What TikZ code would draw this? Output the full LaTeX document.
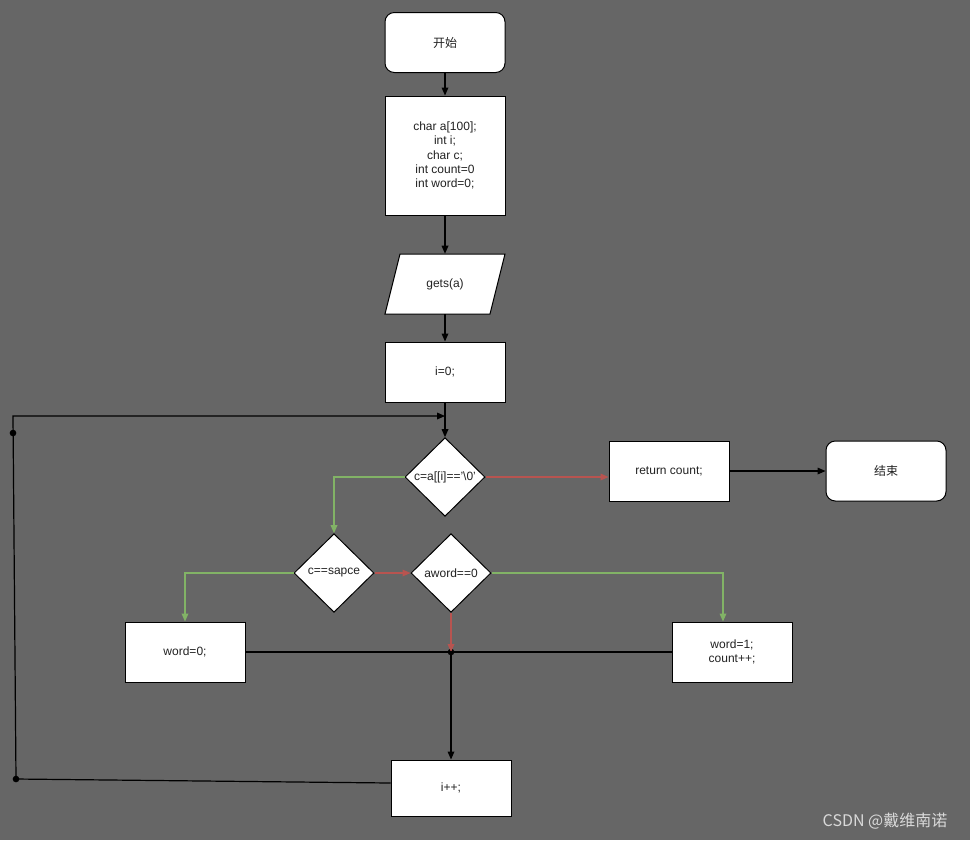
\documentclass[tikz,border=0pt]{standalone}
\usepackage{fontspec}
\setmainfont{Liberation Sans}
\newfontfamily\cjk{Noto Sans CJK SC}
\usetikzlibrary{arrows.meta,shapes.geometric}
\definecolor{bg}{HTML}{666666}
\definecolor{redl}{HTML}{B85450}
\definecolor{greenl}{HTML}{82B366}
\definecolor{txt}{HTML}{222222}
\tikzset{
  box/.style={draw=black, fill=white, line width=0.75pt, minimum width=90pt, minimum height=45pt, inner sep=0pt, align=center, font=\fontsize{9}{10.8}\selectfont, text=txt},
  rbox/.style={box, rounded corners=7pt},
  dia/.style={draw=black, fill=white, line width=0.75pt, diamond, minimum width=60pt, minimum height=59pt, inner sep=0pt},
  lab/.style={font=\fontsize{9}{10.8}\selectfont, text=txt, inner sep=0pt},
  conn/.style={color=black, line width=0.9pt},
  arr/.style={conn, -{Triangle[length=6pt,width=5pt]}},
  garr/.style={line width=0.9pt, color=greenl, -{Triangle[length=6pt,width=5pt]}},
  rarr/.style={line width=0.9pt, color=redl, -{Triangle[length=6pt,width=5pt]}},
  dot/.style={circle, fill=black, inner sep=0pt, minimum size=5pt}
}
\begin{document}
\begin{tikzpicture}[x=0.75pt,y=-0.75pt]
\fill[bg] (0,0) rectangle (970,840);
\useasboundingbox (0,0) rectangle (970,840);
\node[rbox] (start) at (445,42.5) {\cjk 开始};
\node[box, minimum height=89.25pt] (decl) at (445,155.5) {char a[100];\\int i;\\char c;\\int count=0\\int word=0;};
\draw[black, fill=white, line width=0.75pt] (400,254) -- (505,254) -- (490,314) -- (385,314) -- cycle;
\node[lab, minimum width=90pt, minimum height=45pt] (gets) at (445,284) {gets(a)};
\node[box] (i0) at (445,372) {i=0;};
\node[dia] (d1) at (445,477) {};
\node[lab] (t1) at (445,477) {c=a[[i]=='\textbackslash 0'};
\node[box] (ret) at (669,471) {return count;};
\node[rbox] (end) at (886,471) {\cjk 结束};
\node[dia] (d2) at (334,573) {};
\node[lab] (t2) at (334,573) {c==sapce};
\node[dia] (d3) at (451,573) {};
\node[lab] (t3) at (451,573) {aword==0};
\node[box] (w0) at (185,652) {word=0;};
\node[box] (w1) at (732,652) {word=1;\\count++;};
\node[box, minimum height=42pt] (ipp) at (451,788) {i++;};
\coordinate (lt) at (13,416);
\coordinate (lb) at (16,779);
\coordinate (jn) at (451,652);
\node[dot] (dt) at (13,433) {};
\node[dot] (db) at (16,779) {};
\node[dot] (dj) at (451,652) {};
% main flow
\draw[arr] (start) -- (decl);
\draw[arr] (decl) -- (gets);
\draw[arr] (gets) -- (i0);
\draw[arr] (i0) -- (d1);
\draw[rarr] (d1.east) -- (d1.east -| ret.west);
\draw[arr] (ret) -- (end);
\draw[garr] (d1.west) -| (d2.north);
\draw[garr] (d2.west) -| (w0.north);
\draw[rarr] (d2.east) -- (d3.west);
\draw[garr] (d3.east) -| ([xshift=-6.75pt]w1.north);
\draw[rarr] (d3.south) -- (jn);
\draw[conn] (w0.east) -- (w1.west);
\draw[arr] (jn) -- (ipp.north);
\draw[arr] ([yshift=3.75pt]ipp.west) -- (lb) -- (lt) -- (lt -| d1.north);
% watermark
\node[font=\cjk\fontsize{12}{14}\selectfont, text=black!15, inner sep=0pt] (wm) at (885,821) {CSDN @戴维南诺};
\end{tikzpicture}
\end{document}
